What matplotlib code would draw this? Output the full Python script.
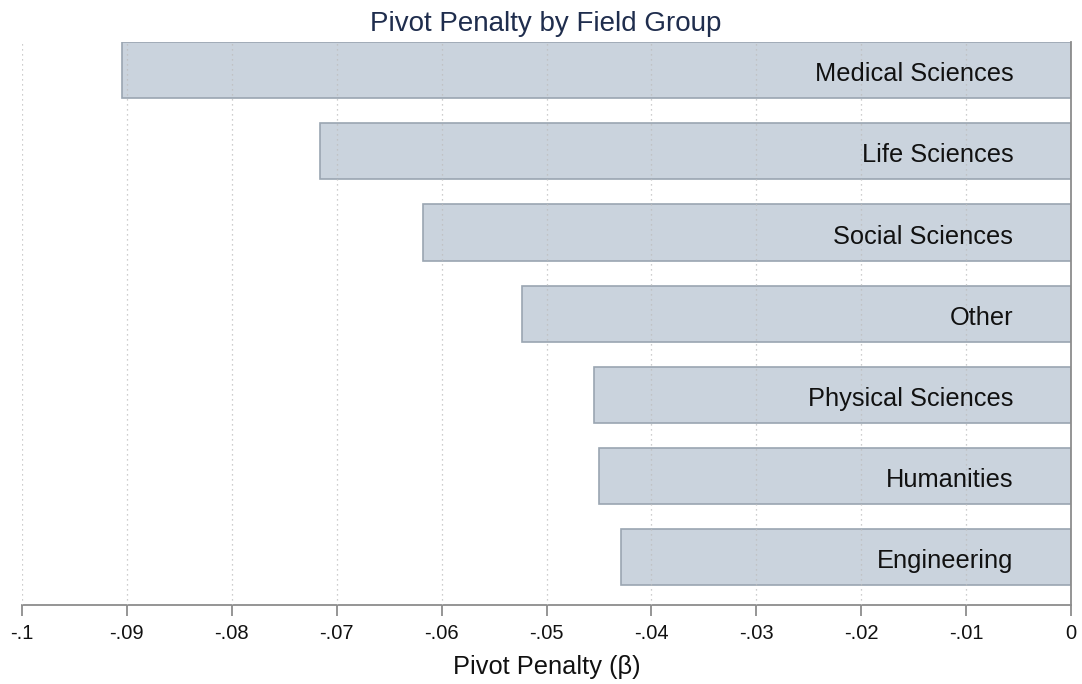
import matplotlib
matplotlib.use("Agg")
import matplotlib.pyplot as plt

plt.rcParams['font.family'] = ['Liberation Sans', 'DejaVu Sans']

fields = ["Medical Sciences", "Life Sciences", "Social Sciences", "Other",
          "Physical Sciences", "Humanities", "Engineering"]
penalty = [-0.0905, -0.0716, -0.0618, -0.0523, -0.0455, -0.0450, -0.0429]
xticks = [-0.1, -0.09, -0.08, -0.07, -0.06, -0.05, -0.04, -0.03, -0.02, -0.01, 0]
xticklabels = ["-.1", "-.09", "-.08", "-.07", "-.06", "-.05", "-.04", "-.03", "-.02", "-.01", "0"]

fig = plt.figure(figsize=(10.82, 6.84), dpi=100)
ax = fig.add_axes([22/1082, 1 - 605/684, (1071-22)/1082, (605-42)/684])

n = len(fields)
ypos = [n - 1 - i for i in range(n)]
ax.barh(ypos, penalty, height=0.69, color="#cad3dd", edgecolor="#9aa5b1",
        linewidth=1.2, zorder=2)
for y, lab in zip(ypos, fields):
    ax.text(-0.0055, y - 0.05, lab, ha="right", va="center", fontsize=18.3,
            color="#111111", zorder=4)

ax.set_xlim(-0.1, 0)
ax.set_ylim(-0.586, n - 1 + 0.345)
ax.set_xticks(xticks)
ax.set_xticklabels(xticklabels, fontsize=14.5)
ax.set_yticks([])
for x in xticks[:-1]:
    ax.axvline(x, color="#bdbdbd", linestyle=(0, (1, 3)), linewidth=0.9, zorder=3)

for s in ["top", "left"]:
    ax.spines[s].set_visible(False)
ax.spines["bottom"].set_color("#8c8c8c")
ax.spines["bottom"].set_linewidth(1.3)
ax.spines["right"].set_color("#8c8c8c")
ax.spines["right"].set_linewidth(1.3)
ax.tick_params(axis="x", direction="out", length=8, width=1.3, color="#8c8c8c",
               pad=6, labelcolor="#111111")

ax.set_xlabel("Pivot Penalty (β)", fontsize=18.3, color="#111111", labelpad=8)
fig.text(546/1082, 1 - 24/684, "Pivot Penalty by Field Group", ha="center",
         va="center", fontsize=20, color="#1f2d4d")

fig.savefig("out.png", dpi=100)
